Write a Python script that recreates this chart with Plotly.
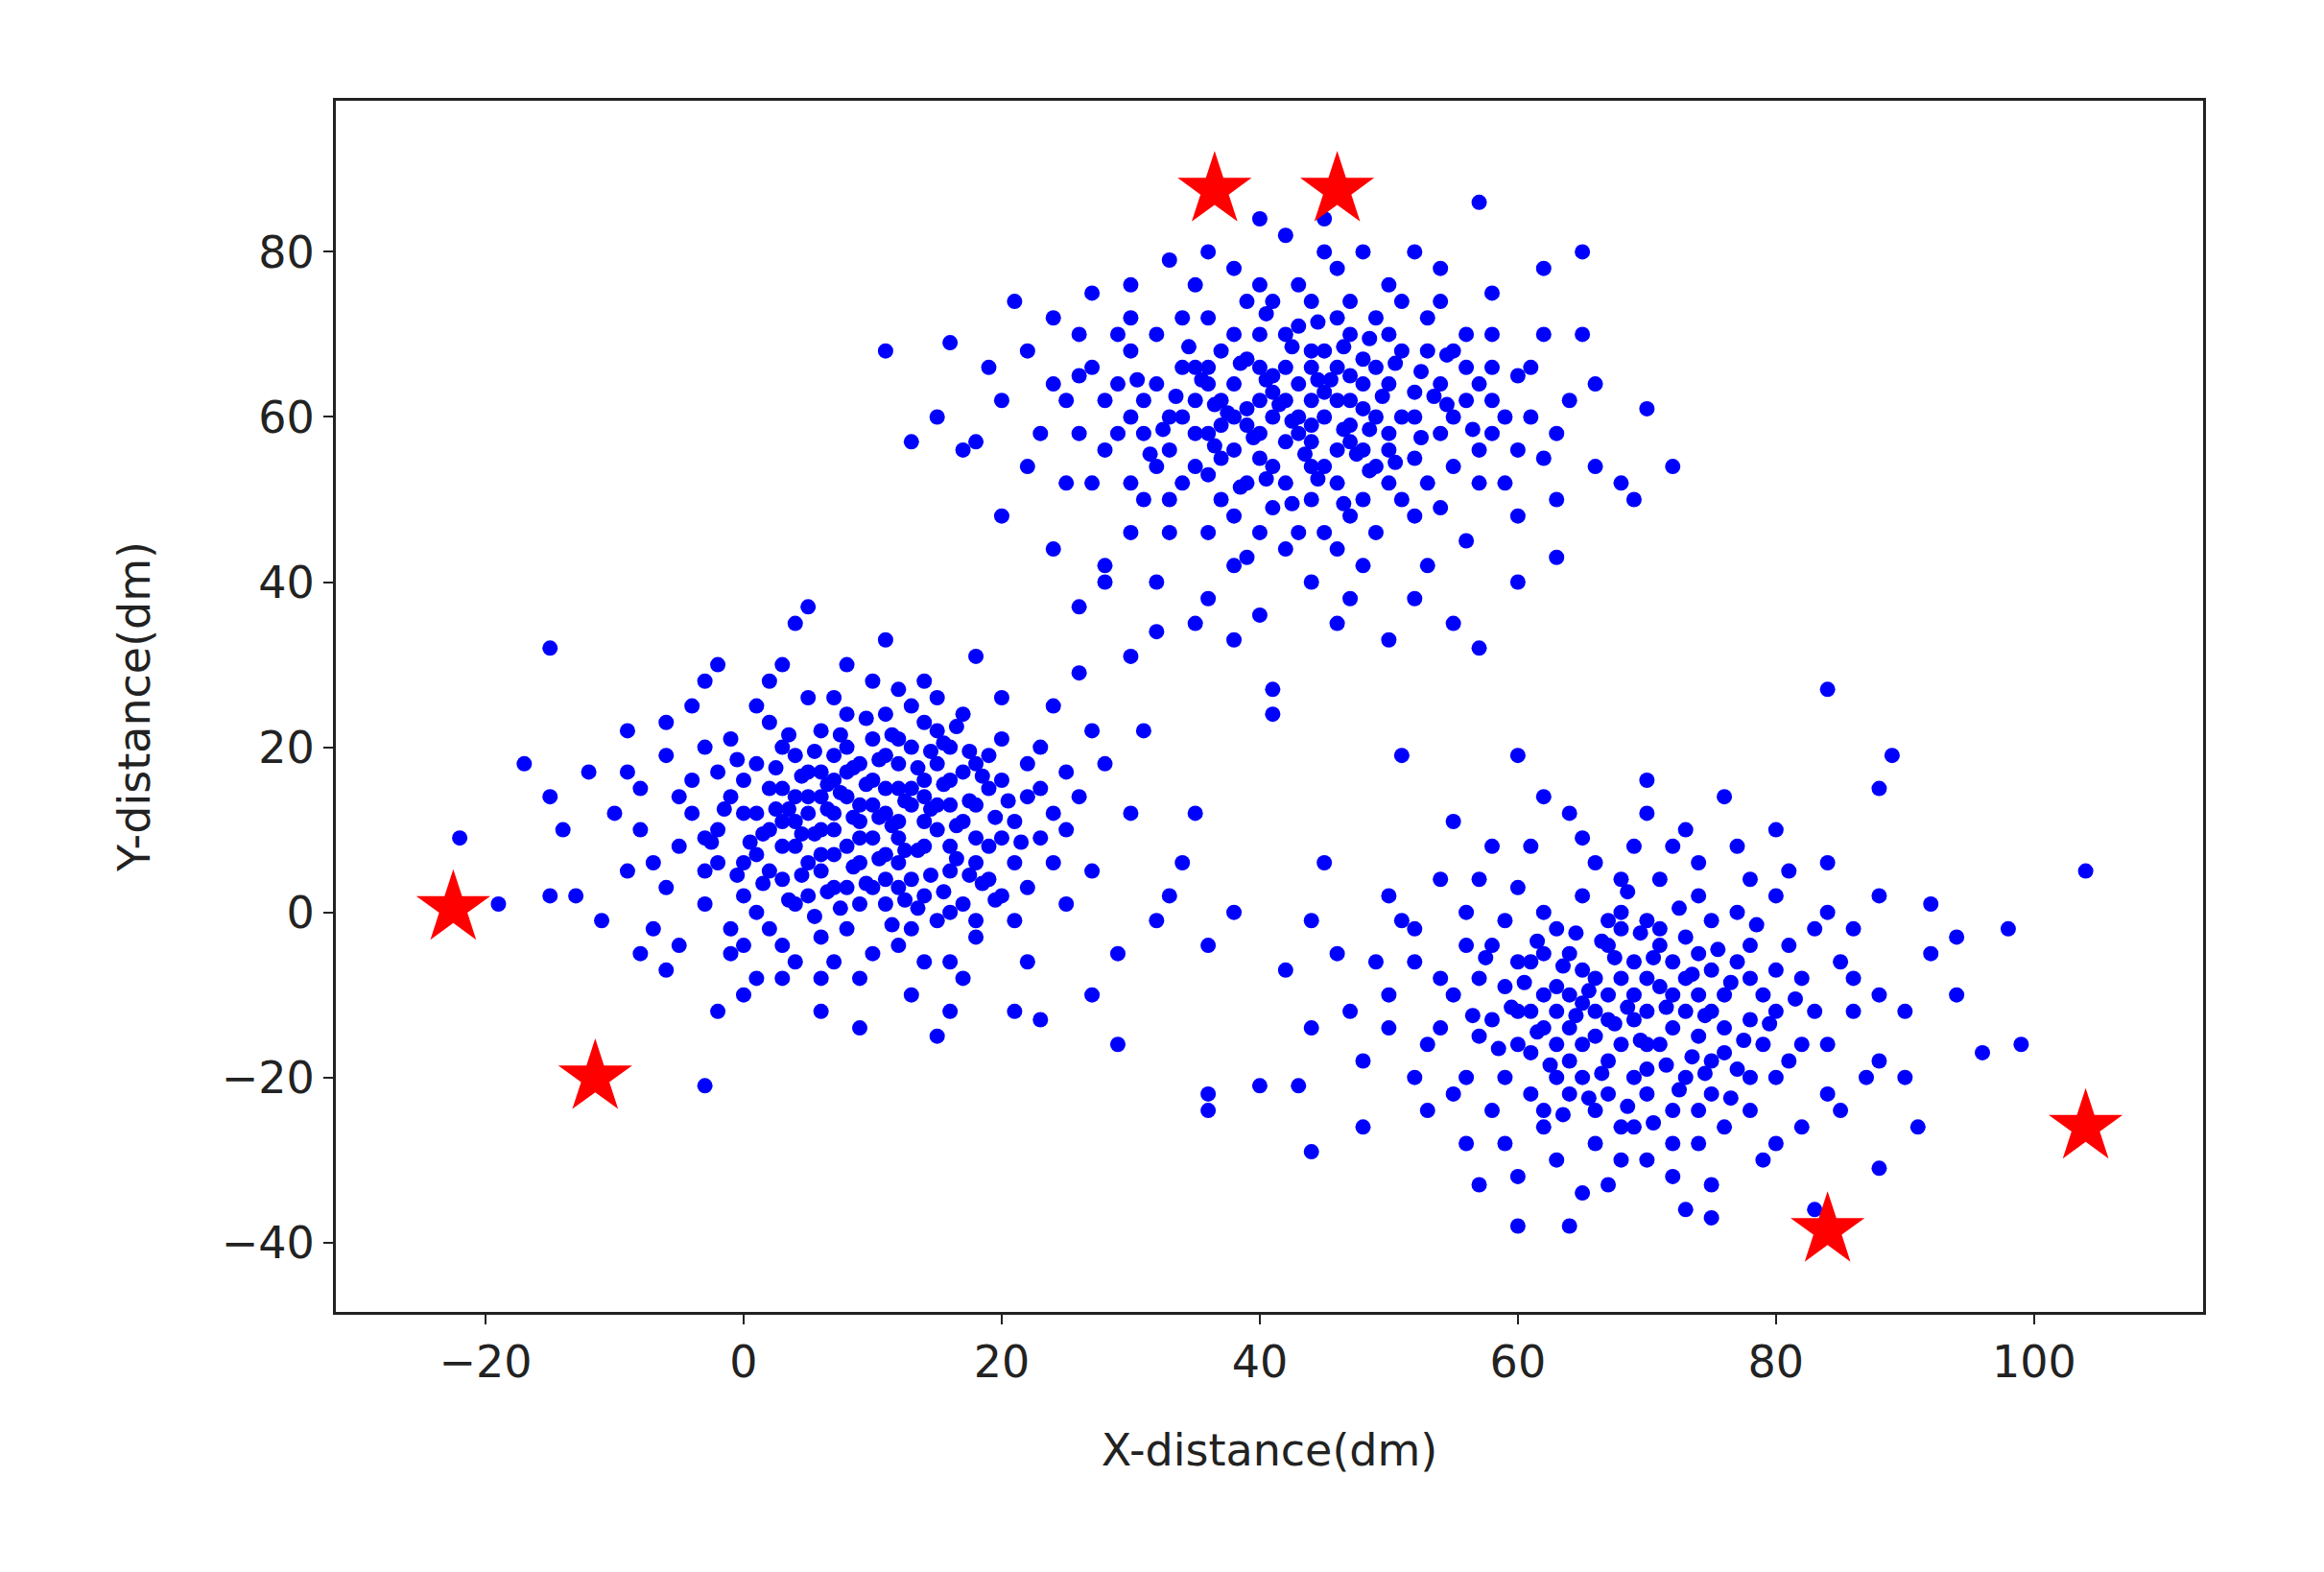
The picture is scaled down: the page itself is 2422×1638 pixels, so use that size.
import plotly.graph_objects as go

cluster_a = [(2,10),(5,14),(8,8),(11,12),(14,16),(6,5),(9,18),(12,6),(15,10),(3,15),(7,12),(10,3),(13,20),(16,5),(4,8),(1,18),(18,13),(11,15),(8,20),(5,2),(12,9),(17,17),(0,6),(9,1),(14,2),(6,22),(10,9),(3,4),(19,8),(7,16),(13,13),(16,20),(2,23),(15,-1),(0,12),(-2,10),(4,19),(11,24),(20,16),(8,-2),
(-5,8),(-8,15),(-6,3),(-3,20),(-10,12),(-7,-2),(-4,25),(-1,-5),(3,-8),(7,-6),(12,-4),(18,-3),(22,3),(25,10),(23,20),(20,26),(14,28),(8,30),(2,28),(-2,30),(-12,17),(-14,10),(-9,5),(-5,-4),(0,-10),(6,-12),(13,-10),(17,-8),(22,-6),(27,5),(30,12),(28,18),(24,25),(18,31),(11,33),(4,35),(-3,28),(-9,22),(-15,14),(-13,2),(-11,-1),(-6,-7),(-2,-12),(9,-14),(15,-15),(23,-13),(29,-5),(33,2),(35,12),(31,22),(26,29),(5,37),(-15,32),(-17,18),(-15,2),(-19,1),(-22,9),(-3,-21),(29,-16),(38,0),(36,-4),(32,-1),(34,6),(27,-10),(21,-12),(16,-12),(1,-8),(-8,-5),
(6,10),(9,13),(12,11),(14,8),(10,16),(7,7),(5,12),(13,4),(16,13),(18,9),(3,11),(1,7),(8,14),(11,19),(15,18),(19,4),(4,1),(-1,14),(-3,5),(2,-2),(9,6),(17,1),(21,11),(6,17),(12,15),(7,3),(10,-5),(14,23),(-4,16),(0,2),(20,21),(24,6),(22,14),(-6,19),(5,26),(12,27),(-8,10),(16,-6),(26,14),(3,-4),
(1,12),(3,8),(5,17),(7,10),(9,11),(11,7),(13,15),(15,13),(17,11),(19,15),(2,5),(4,14),(6,7),(8,3),(10,13),(12,18),(14,11),(16,8),(18,18),(20,9),(0,16),(-2,6),(-4,12),(-1,21),(1,25),(3,20),(6,14),(8,24),(10,21),(13,25),(15,22),(17,24),(19,19),(21,6),(23,9),(25,17),(22,18),(20,2),(18,-1),(16,0),(13,-2),(11,1),(9,-8),(6,-3),(4,-6),(1,0),(-1,-2),(-3,1),(-5,14),(-7,6),(-6,23),(-9,17),(-2,17),(3,30),(7,26),(10,28),(15,26),(23,15),(27,22),(25,1),(21,-1),(14,-6),(5,6),(7,19),(12,3),(14,14),(9,9),(11,4),(4,11),(2,15),(16,16),(18,6),(-3,9),(6,-8),(12,21),(0,-4),(24,12),(8,17),
(1.5,9.5),(3.5,12.5),(5.5,9.5),(7.5,14.5),(9.5,15.5),(11.5,10.5),(13.5,7.5),(15.5,15.5),(17.5,13.5),(19.5,11.5),(2.5,17.5),(4.5,4.5),(6.5,12.5),(8.5,5.5),(10.5,18.5),(12.5,13.5),(14.5,4.5),(16.5,10.5),(18.5,16.5),(0.5,8.5),(-1.5,12.5),(3.5,21.5),(5.5,19.5),(7.5,21.5),(9.5,23.5),(11.5,21.5),(13.5,17.5),(15.5,20.5),(17.5,19.5),(20.5,13.5),(21.5,8.5),(19.5,1.5),(17.5,4.5),(15.5,2.5),(13.5,0.5),(11.5,-1.5),(9.5,3.5),(7.5,0.5),(5.5,-0.5),(3.5,1.5),(1.5,3.5),(-0.5,4.5),(-2.5,8.5),(-0.5,18.5),(2.5,12.5),(4.5,16.5),(6.5,2.5),(8.5,11.5),(10.5,6.5),(12.5,1.5),(14.5,19.5),(16.5,22.5),(18.5,3.5),(10.5,11.5),(6.5,15.5),(4.5,9.5),(8.5,17.5),(12.5,7.5),(14.5,12.5),(16.5,6.5)]

cluster_b = [(40,58),(44,62),(38,64),(46,56),(42,66),(36,58),(48,61),(41,54),(45,68),(39,52),(43,60),(35,62),(50,58),(37,68),(47,65),(33,56),(40,70),(44,50),(52,63),(31,62),(46,72),(38,48),(49,54),(42,57),(34,66),(55,60),(29,58),(41,74),(53,68),(36,53),(45,46),(50,70),(30,68),(57,56),(39,61),(43,64),(37,59),(47,59),(41,63),(44,57),
(25,62),(22,68),(18,57),(15,60),(11,68),(13,57),(20,48),(24,44),(28,42),(32,40),(36,38),(40,36),(44,40),(48,42),(52,38),(56,45),(60,48),(62,55),(64,62),(62,70),(58,75),(54,78),(48,80),(42,82),(36,80),(30,76),(24,72),(19,66),(27,52),(33,46),(58,66),(60,40),(55,35),(50,33),(46,35),(38,33),(30,31),(26,37),(57,32),(63,43),(66,54),(68,52),(70,61),(72,54),(69,50),(65,70),(62,78),(57,86),(65,80),(52,80),(45,84),(40,84),(33,79),(27,75),(21,74),(16,69),(23,58),(35,35),(41,24),(41,27),(32,34),(28,40),(47,38),(53,42),(61,60),(59,52),(26,65),(20,62),(17,56),(31,50),(34,72),(46,78),(51,74),(56,70),(60,65),(63,50),(54,49),(49,46),(39,43),(30,46),(25,52),(22,54),(58,58),(66,64),
(38,56),(40,62),(42,52),(44,66),(46,62),(48,56),(50,64),(36,64),(34,60),(39,67),(45,54),(47,70),(41,49),(51,60),(43,71),(37,50),(52,55),(35,54),(32,64),(48,67),(54,64),(40,76),(44,74),(29,64),(56,62),
(39,59),(41,60),(43,58),(45,60),(47,62),(49,60),(37,62),(35,58),(33,60),(31,58),(40,55),(42,62),(44,54),(46,66),(48,64),(50,56),(52,60),(54,58),(56,66),(58,62),(36,66),(38,70),(40,66),(42,70),(44,68),(46,52),(48,50),(50,52),(52,48),(34,52),(32,54),(30,60),(28,62),(27,66),(29,70),(32,70),(36,72),(39,74),(43,76),(47,74),(50,76),(53,72),(55,68),(57,64),(59,60),(60,56),(57,52),(55,54),(53,52),(51,50),(47,48),(43,46),(40,46),(36,46),(33,50),(30,52),(28,56),(26,58),(24,64),(26,70),(30,72),(35,76),(38,78),(45,80),(49,72),(54,74),(42,44),(38,42),(46,44),(58,70),(61,66),(63,58),(44,59),(41,65),(38,60),(47,57),(45,63),(49,66),(51,68),(37,55),(35,66),
(39.5,57.5),(41.5,61.5),(43.5,55.5),(45.5,64.5),(47.5,55.5),(49.5,62.5),(37.5,60.5),(35.5,64.5),(33.5,62.5),(31.5,55.5),(40.5,52.5),(42.5,68.5),(44.5,64.5),(46.5,58.5),(48.5,69.5),(50.5,54.5),(52.5,65.5),(54.5,61.5),(56.5,58.5),(36.5,56.5),(38.5,66.5),(40.5,72.5),(42.5,59.5),(44.5,52.5),(46.5,68.5),(48.5,58.5),(50.5,66.5),(34.5,68.5),(32.5,58.5),(30.5,64.5),(38.5,51.5),(42.5,49.5),(46.5,49.5),(52.5,57.5),(54.5,67.5),(36.5,61.5),(44.5,71.5),(40.5,64.5),(48.5,53.5),(53.5,62.5)]

cluster_c = [(66,-8),(70,-12),(64,-14),(72,-6),(68,-2),(62,-10),(74,-15),(67,-18),(71,-4),(65,-20),(69,-10),(60,-6),(76,-10),(63,-2),(73,-20),(58,-13),(78,-4),(66,-24),(75,-1),(61,-17),(70,-16),(80,-12),(57,-8),(68,4),(77,-19),(64,-5),(72,-24),(59,-20),(82,-8),(67,-13),(71,-9),(65,-11),(69,-6),(73,-12),(63,-9),(75,-7),
(52,-2),(50,-10),(48,-18),(53,-24),(56,-28),(60,-32),(65,-34),(70,-30),(75,-33),(80,-28),(85,-24),(88,-18),(90,-12),(92,-5),(88,2),(84,6),(80,10),(76,14),(70,16),(64,12),(58,8),(54,4),(50,2),(46,-5),(47,-12),(44,-14),(43,-21),(44,-29),(40,-21),(36,-22),(36,-24),(42,-7),(44,-1),(45,6),(51,19),(60,19),(84,27),(89,19),(88,15),(94,-3),(98,-2),(96,-17),(99,-16),(91,-26),(88,-31),(83,-36),(75,-37),(64,-38),(60,-38),(104,5),(92,1),(86,-8),(82,-16),(78,-24),(74,-28),(68,-26),(62,-26),(56,-20),(54,-14),(52,-6),(56,0),(60,3),(66,6),(72,8),(78,4),(84,0),(86,-12),(80,-20),(76,-26),(70,-22),(62,-24),(58,-4),(55,11),(62,14),(70,12),(74,6),(90,-20),(94,-10),(48,-26),(57,-33),(67,-33),(73,-36),
(66,-12),(68,-16),(70,-8),(72,-14),(64,-10),(62,-14),(74,-10),(67,-4),(69,-20),(71,-2),(65,-16),(73,-8),(63,-20),(76,-14),(60,-12),(78,-8),(67,-22),(75,-18),(61,-6),(79,-16),
(65,-7),(67,-10),(69,-13),(71,-16),(73,-3),(75,-12),(77,-6),(79,-10),(81,-4),(83,-12),(63,-16),(61,-12),(59,-9),(57,-15),(55,-10),(53,-16),(55,-22),(58,-24),(61,-22),(64,-22),(66,-28),(69,-26),(72,-28),(75,-22),(78,-20),(81,-18),(84,-16),(85,-6),(83,-2),(80,2),(77,0),(74,2),(71,4),(68,0),(65,2),(62,0),(59,-1),(56,-4),(54,-8),(57,4),(61,8),(65,9),(69,8),(73,10),(77,8),(81,5),(86,-2),(88,-10),(87,-20),(84,-22),(82,-26),(79,-30),(72,-32),(68,-30),(63,-30),(59,-28),(52,-20),(50,-14),(49,-6),(51,-1),(66,-15),(68,-8),(70,-19),(72,-10),(74,-5),(76,-17),(64,-18),(62,-5),(60,-16),(70,-1),(67,-1),(63,-12),(74,-24),(78,-13),(80,-7),
(65.5,-9.5),(67.5,-5.5),(69.5,-15.5),(71.5,-11.5),(73.5,-17.5),(75.5,-4.5),(77.5,-15.5),(63.5,-6.5),(61.5,-14.5),(59.5,-11.5),(66.5,-19.5),(68.5,-23.5),(70.5,-5.5),(72.5,-21.5),(74.5,-12.5),(76.5,-8.5),(78.5,-1.5),(64.5,-2.5),(62.5,-18.5),(60.5,-8.5),(58.5,-16.5),(67.5,-13.5),(69.5,-2.5),(71.5,-18.5),(73.5,-7.5),(65.5,-22.5),(63.5,-24.5),(61.5,-3.5),(79.5,-13.5),(81.5,-10.5),(57.5,-5.5),(56.5,-12.5),(68.5,2.5),(72.5,0.5),(76.5,-22.5),(66.5,-3.5),(70.5,-25.5),(74.5,-19.5),(64.5,-12.5),(68.5,-11.5)]

star_x = [-22.5, -11.5, 36.5, 46, 84, 104]
star_y = [0.5, -20, 87.5, 87.5, -38.5, -26]

pts = cluster_a + cluster_b + cluster_c
px = [p[0] for p in pts]
py = [p[1] for p in pts]

fig = go.Figure()
fig.add_trace(go.Scatter(x=px, y=py, mode="markers",
                         marker=dict(color="#0000ff", size=16, line=dict(width=0))))
fig.add_trace(go.Scatter(x=star_x, y=star_y, mode="markers",
                         marker=dict(color="#ff0000", symbol="star", size=58, line=dict(width=0))))

axis_common = dict(showgrid=False, zeroline=False, showline=True, linecolor="#222",
                   linewidth=3, mirror=True, ticks="outside", ticklen=10, tickwidth=2,
                   tickcolor="#222", tickfont=dict(size=46, color="#222"),
                   title_font=dict(size=46, color="#222"))
fig.update_layout(
    width=2422, height=1638, showlegend=False,
    plot_bgcolor="white", paper_bgcolor="white",
    font=dict(family="DejaVu Sans"),
    margin=dict(l=342, r=134, t=97, b=279),
    xaxis=dict(range=[-31.6, 113.1], tickvals=[-20, 0, 20, 40, 60, 80, 100],
               title=dict(text="X-distance(dm)", standoff=50), **axis_common),
    yaxis=dict(range=[-48.4, 98.3], tickvals=[-40, -20, 0, 20, 40, 60, 80],
               title=dict(text="Y-distance(dm)", standoff=60), **axis_common),
)
fig.write_html("out.html")
